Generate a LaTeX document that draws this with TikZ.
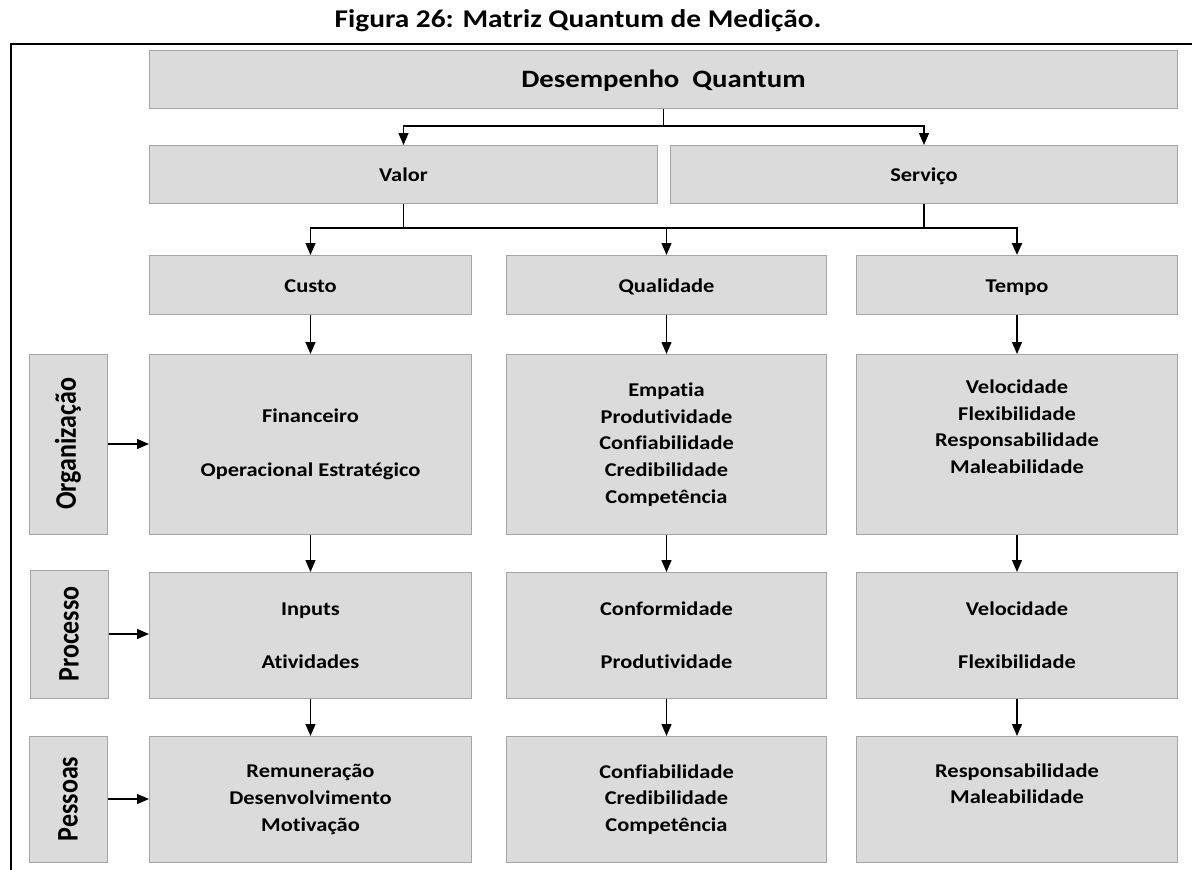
\documentclass[tikz,border=0pt]{standalone}
\usepackage{fontspec}
\setmainfont{Carlito}[FakeStretch=1.15, Ligatures=NoCommon]
\newfontfamily\sidefont{Carlito}[Ligatures=NoCommon]
\usetikzlibrary{arrows.meta}
\definecolor{boxfill}{RGB}{219,219,219}
\definecolor{boxline}{RGB}{165,165,165}

\begin{document}
\begin{tikzpicture}[x=1pt,y=-1pt,
  cell/.style={draw=boxline, fill=boxfill, line width=1pt, inner sep=0pt,
    align=center, anchor=north west,
    font=\bfseries\fontsize{19.5}{26.7}\selectfont},
  head/.style={cell, text height=18pt, text depth=4pt},
  side/.style={draw=boxline, fill=boxfill, line width=1pt, inner sep=0pt,
    anchor=center, rotate=90, minimum height=78pt},
  link/.style={line width=1.3pt, black},
  arr/.style={link, -{Triangle[length=12pt,width=10pt]}},
]
\useasboundingbox (0,0) rectangle (1192,870);

% caption and page frame
\node (title) at (578,21) {\bfseries\fontsize{25.5}{29}\selectfont Figura 26: Matriz Quantum de Medição.};
\draw[line width=2pt] (1192,44) -- (11,44) -- (11,870);

% top level
\node[cell, minimum width=1028pt, minimum height=58pt, text height=20pt, text depth=5pt,
  font=\bfseries\fontsize{25}{30}\selectfont] (dq) at (149,50) {Desempenho\ \ Quantum};
\node[head, minimum width=508pt, minimum height=58pt] (valor) at (149,145) {Valor};
\node[head, minimum width=507pt, minimum height=58pt] (servico) at (670,145) {Serviço};

% dimensions
\node[head, minimum width=322pt, minimum height=59pt] (custo) at (149,255) {Custo};
\node[head, minimum width=320pt, minimum height=59pt] (qual) at (506,255) {Qualidade};
\node[head, minimum width=321pt, minimum height=59pt] (tempo) at (856,255) {Tempo};

% organization level
\node[cell, minimum width=322pt, minimum height=180pt] (fin) at (149,354)
  {Financeiro\\[26.7pt]Operacional Estratégico};
\node[cell, minimum width=320pt, minimum height=180pt] (emp) at (506,354)
  {Empatia\\Produtividade\\Confiabilidade\\Credibilidade\\Competência};
\node[cell, minimum width=321pt, minimum height=180pt] (vel) at (856,354)
  {Velocidade\\Flexibilidade\\Responsabilidade\\Maleabilidade\\[9pt]\mbox{}};

% process level
\node[cell, minimum width=322pt, minimum height=126pt] (inp) at (149,572)
  {Inputs\\[26.7pt]Atividades};
\node[cell, minimum width=320pt, minimum height=126pt] (conf) at (506,572)
  {Conformidade\\[26.7pt]Produtividade};
\node[cell, minimum width=321pt, minimum height=126pt] (velp) at (856,572)
  {Velocidade\\[26.7pt]Flexibilidade};

% people level
\node[cell, minimum width=322pt, minimum height=126pt] (rem) at (149,736)
  {Remuneração\\Desenvolvimento\\Motivação};
\node[cell, minimum width=320pt, minimum height=126pt] (cred) at (506,736)
  {Confiabilidade\\Credibilidade\\Competência};
\node[cell, minimum width=321pt, minimum height=126pt] (resp) at (856,736)
  {Responsabilidade\\Maleabilidade\\[5pt]\mbox{}};

% row labels
\node[side, minimum width=180pt] (org) at (68,444)
  {\scalebox{1}[1.15]{\sidefont\bfseries\fontsize{26}{30}\selectfont Organização}};
\node[side, minimum width=128pt] (proc) at (69,634)
  {\scalebox{1}[1.15]{\sidefont\bfseries\fontsize{26}{30}\selectfont Processo}};
\node[side, minimum width=126pt] (pess) at (68,799)
  {\scalebox{1}[1.15]{\sidefont\bfseries\fontsize{26}{30}\selectfont Pessoas}};

% branching connectors
\draw[link] (dq.south) -- (dq.south |- 0,126) coordinate (jtop);
\draw[arr] (jtop) -| (valor.north);
\draw[arr] (jtop) -| (servico.north);
\draw[link] (valor.south) -- (valor.south |- 0,228) coordinate (jval);
\draw[link] (servico.south) -- (servico.south |- 0,228) coordinate (jser);
\draw[arr] (jval) -| (custo.north);
\draw[arr] (jval) -| (qual.north);
\draw[link] (jval) -- (jser);
\draw[arr, line width=2.2pt] (jser) -| (tempo.north);

% column arrows
\draw[arr] (custo) -- (fin);
\draw[arr] (fin) -- (inp);
\draw[arr] (inp) -- (rem);
\draw[arr] (qual) -- (emp);
\draw[arr] (emp) -- (conf);
\draw[arr] (conf) -- (cred);
\draw[arr] (tempo) -- (vel);
\draw[arr] (vel) -- (velp);
\draw[arr] (velp) -- (resp);

% row label arrows
\draw[arr] (org) -- (org -| fin.west);
\draw[arr] (proc) -- (proc -| inp.west);
\draw[arr] (pess) -- (pess -| rem.west);
\end{tikzpicture}
\end{document}
